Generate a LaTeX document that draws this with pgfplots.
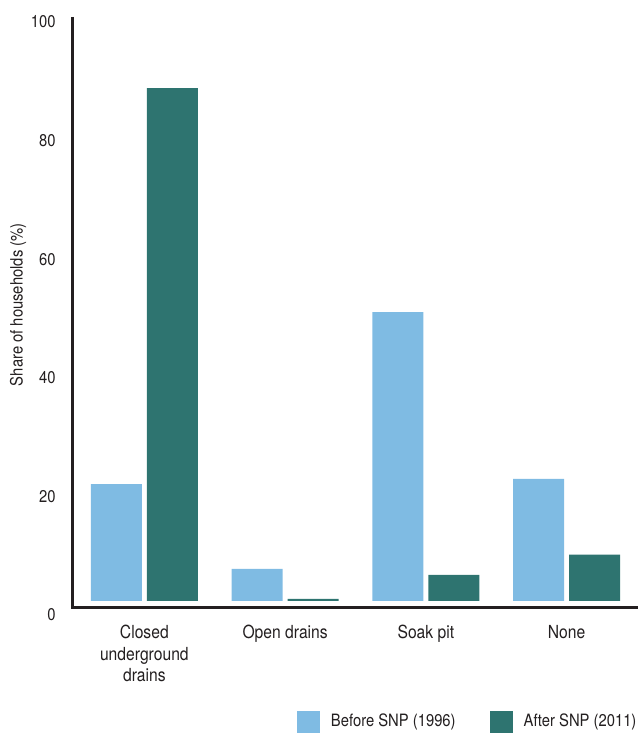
\documentclass[border=0pt]{standalone}
\usepackage{fontspec}
\setmainfont{TeX Gyre Heros}[FakeStretch=0.87]
\usepackage{pgfplots}
\pgfplotsset{compat=1.18}
\definecolor{lblue}{RGB}{127,187,227}
\definecolor{tealc}{RGB}{46,116,112}
\definecolor{txt}{RGB}{35,31,32}
\begin{document}
\begin{tikzpicture}
\begin{axis}[
  at={(0,0)}, anchor=south west,
  scale only axis,
  width=283pt, height=299.75pt,
  xmin=-0.514, xmax=3.507,
  ymin=-1.1, ymax=100,
  clip=false,
  axis line style={draw=none},
  major tick length=0pt,
  xtick={0,1,2,3},
  xticklabels={{Closed\\underground\\drains},{Open drains},{Soak pit},{None}},
  xticklabel style={align=center, font=\fontsize{9}{10.75}\selectfont, anchor=north, yshift=-5.25pt, text=txt},
  ytick={0,20,40,60,80,100},
  yticklabels={0,20,40,60,80,100},
  yticklabel style={anchor=east, xshift=-4.7pt, yshift=-7pt, font=\fontsize{8.5}{10}\selectfont, text=txt},
  /pgf/number format/assume math mode=true,
  ylabel={Share of households (\%)},
  every axis y label/.style={at={(axis description cs:-0.0954,0.505)}, rotate=90, anchor=center, font=\fontsize{8.5}{10}\selectfont, text=txt},
  legend columns=2,
  legend image code/.code={\fill[#1] (0pt,-5.5pt) rectangle (11.5pt,5.5pt);},
  legend style={at={(axis description cs:0.3975,-0.191)}, anchor=west, draw=none, inner sep=0pt, outer sep=0pt,
    font=\fontsize{8.5}{10}\selectfont, text=txt,
    /tikz/every odd column/.append style={column sep=3.5pt},
    /tikz/every even column/.append style={column sep=15pt}},
]
\addplot[ybar, bar width=25.5pt, bar shift=-14pt, fill=lblue, draw=none] coordinates {(0,19.7) (1,5.4) (2,48.7) (3,20.6)};
\addlegendentry{Before SNP (1996)}
\addplot[ybar, bar width=25.5pt, bar shift=14pt, fill=tealc, draw=none] coordinates {(0,86.5) (1,0.35) (2,4.4) (3,7.8)};
\addlegendentry{After SNP (2011)}
\draw[txt, line width=1.5pt] (axis cs:-0.514,98.5) -- (axis cs:-0.514,-1.1) -- (axis cs:3.507,-1.1);
\end{axis}
\pgfresetboundingbox
\path (-36pt,-62.75pt) rectangle (284pt,303.75pt);
\end{tikzpicture}
\end{document}
